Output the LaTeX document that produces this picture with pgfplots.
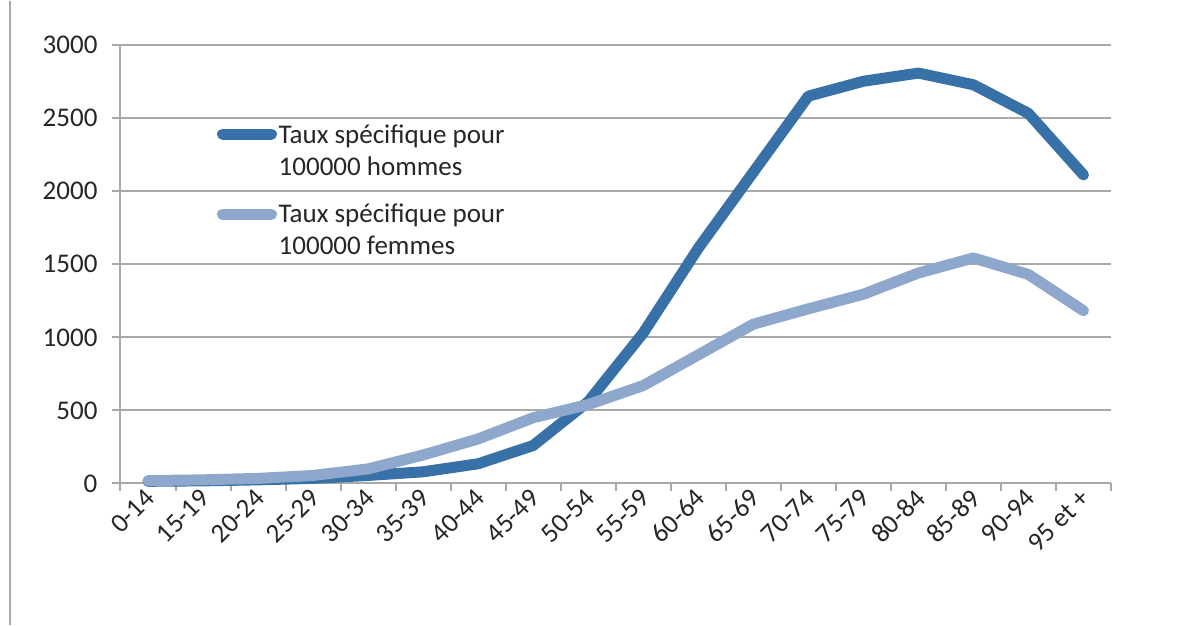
\documentclass[border=0pt]{standalone}
\usepackage{fontspec}
\setmainfont{Carlito}
\usepackage{pgfplots}
\pgfplotsset{compat=1.18}
\definecolor{Hommes}{HTML}{3870A8}
\definecolor{Femmes}{HTML}{8EA7CC}
\definecolor{Grille}{HTML}{A9A9A9}
\definecolor{Texte}{HTML}{262626}
\newcommand{\lbl}{\fontsize{13.5}{16}\selectfont}

\begin{document}
\begin{tikzpicture}
\begin{axis}[
    scale only axis,
    width=495.25pt, height=219.25pt,
    xmin=-0.5, xmax=17.5,
    ymin=0, ymax=3000,
    axis lines=left,
    axis line style={Grille, line width=1pt, -},
    xtick={-0.5,0.5,...,17.5},
    x tick label as interval,
    xticklabels={0-14,15-19,20-24,25-29,30-34,35-39,40-44,45-49,50-54,55-59,60-64,65-69,70-74,75-79,80-84,85-89,90-94,95 et +},
    ytick={0,500,...,3000},
    tick align=outside,
    major tick length=4pt,
    tick style={Grille, line width=1pt},
    ymajorgrids, xmajorgrids=false,
    grid style={Grille, line width=1pt},
    ticklabel style={font=\lbl, text=Texte},
    xticklabel style={rotate=45, anchor=east, inner sep=1pt, yshift=-1.5pt, xshift=1pt},
    yticklabel style={xshift=-4pt},
    /pgf/number format/assume math mode=true,
    /pgf/number format/1000 sep={},
    scaled y ticks=false,
    clip=false,
]
    % cadre du graphique (trait gauche) et taille de la page
    \path (rel axis cs:-0.12166,-0.32269) rectangle (rel axis cs:1.09189,1.10034);
    \draw[Grille, line width=1pt] (rel axis cs:-0.1116,1.10034) -- (rel axis cs:-0.1116,-0.32269);

    % hommes
    \addplot[Hommes, line width=5.5pt, line cap=round, line join=round]
        coordinates {(0,15) (1,18) (2,25) (3,35) (4,55) (5,80) (6,135) (7,260) (8,560)
                     (9,1030) (10,1610) (11,2130) (12,2650) (13,2752) (14,2808) (15,2728) (16,2532) (17,2111)};
    % femmes
    \addplot[Femmes, line width=5.5pt, line cap=round, line join=round]
        coordinates {(0,20) (1,25) (2,35) (3,55) (4,100) (5,195) (6,305) (7,450) (8,540)
                     (9,670) (10,880) (11,1090) (12,1195) (13,1295) (14,1440) (15,1543) (16,1430) (17,1182)};

    % légende
    \draw[Hommes, line width=5.5pt, line cap=round] (rel axis cs:0.103,0.797) -- (rel axis cs:0.1524,0.797);
    \node[anchor=base west, inner sep=0pt, font=\lbl, text=Texte] at (rel axis cs:0.1593,0.775) {Taux spécifique pour};
    \node[anchor=base west, inner sep=0pt, font=\lbl, text=Texte] at (rel axis cs:0.1593,0.7013) {100000 hommes};
    \draw[Femmes, line width=5.5pt, line cap=round] (rel axis cs:0.103,0.6139) -- (rel axis cs:0.1524,0.6139);
    \node[anchor=base west, inner sep=0pt, font=\lbl, text=Texte] at (rel axis cs:0.1593,0.5948) {Taux spécifique pour};
    \node[anchor=base west, inner sep=0pt, font=\lbl, text=Texte] at (rel axis cs:0.1593,0.5227) {100000 femmes};
\end{axis}
\end{tikzpicture}
\end{document}
